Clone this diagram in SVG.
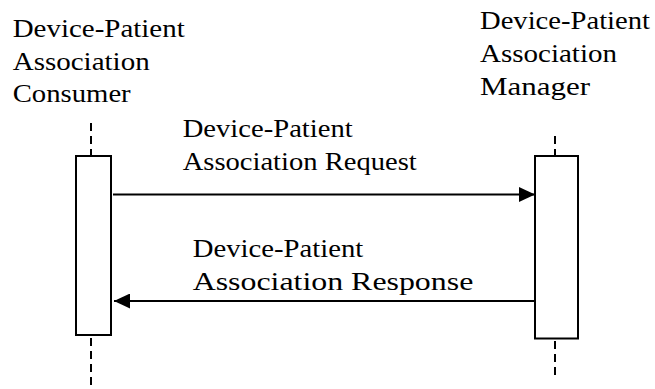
<svg xmlns="http://www.w3.org/2000/svg" width="655" height="389" viewBox="0 0 655 389">
<defs>
<style>
.t{font-family:"Liberation Serif","Times New Roman",serif;font-size:25px;fill:#000}
.life{stroke:#000;stroke-width:2;stroke-dasharray:8,5;fill:none}
.box{fill:#fff;stroke:#000;stroke-width:2}
.msg{stroke:#000;stroke-width:2;fill:none}
</style>
<marker id="ah" viewBox="0 0 16 15" refX="16" refY="7.5" markerWidth="16" markerHeight="15" markerUnits="userSpaceOnUse" orient="auto">
<path d="M0,0 L16,7.5 L0,15 Z" fill="#000"/>
</marker>
</defs>
<g id="consumer">
<text class="t" x="12.7" y="36.7" textLength="172" lengthAdjust="spacingAndGlyphs">Device-Patient</text>
<text class="t" x="12.7" y="69.5" textLength="137" lengthAdjust="spacingAndGlyphs">Association</text>
<text class="t" x="12.7" y="102" textLength="118" lengthAdjust="spacingAndGlyphs">Consumer</text>
<line class="life" x1="91" y1="123" x2="91" y2="156"/>
<line class="life" x1="91" y1="338" x2="91" y2="385"/>
<rect class="box" x="76" y="156" width="35" height="179"/>
</g>
<g id="manager">
<text class="t" x="480" y="28.5" textLength="170" lengthAdjust="spacingAndGlyphs">Device-Patient</text>
<text class="t" x="480" y="62" textLength="137" lengthAdjust="spacingAndGlyphs">Association</text>
<text class="t" x="480" y="95" textLength="110" lengthAdjust="spacingAndGlyphs">Manager</text>
<line class="life" x1="555" y1="136" x2="555" y2="156" stroke-dasharray="2,5,8,5"/>
<line class="life" x1="555" y1="341" x2="555" y2="378"/>
<rect class="box" x="535" y="156" width="43" height="182.5"/>
</g>
<g id="connectors">
<g id="request">
<line class="msg" x1="113" y1="194.5" x2="535" y2="194.5" marker-end="url(#ah)"/>
<text class="t" x="182.7" y="136.7" textLength="170" lengthAdjust="spacingAndGlyphs">Device-Patient</text>
<text class="t" x="182.7" y="170" textLength="234" lengthAdjust="spacingAndGlyphs">Association Request</text>
</g>
<g id="response">
<line class="msg" x1="535" y1="301" x2="114" y2="301" marker-end="url(#ah)"/>
<text class="t" x="192.7" y="256.7" textLength="170.6" lengthAdjust="spacingAndGlyphs">Device-Patient</text>
<text class="t" x="192.7" y="290" textLength="280.6" lengthAdjust="spacingAndGlyphs">Association Response</text>
</g>
</g>
</svg>
